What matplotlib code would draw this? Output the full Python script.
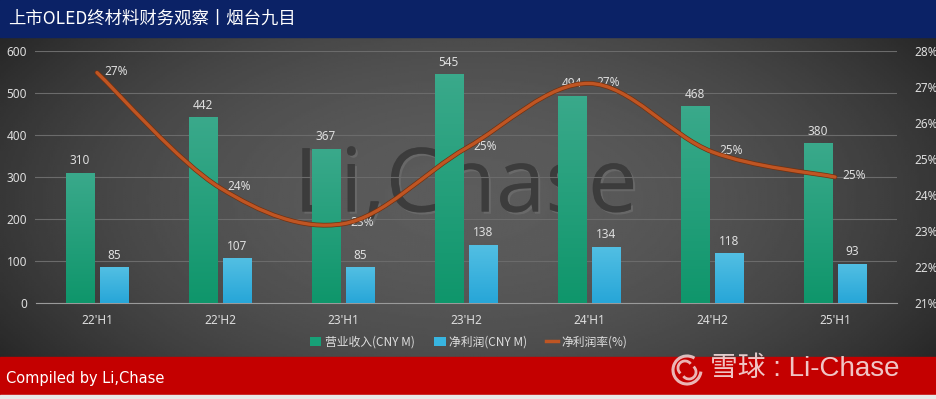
import numpy as np
import matplotlib
matplotlib.use("Agg")
import matplotlib.pyplot as plt
from matplotlib.path import Path
from matplotlib.patches import PathPatch, Rectangle, Arc
from matplotlib.colors import LinearSegmentedColormap
import matplotlib.patheffects as pe

plt.rcParams['font.family'] = ['Noto Sans CJK SC', 'DejaVu Sans']

# data
periods = ["22'H1", "22'H2", "23'H1", "23'H2", "24'H1", "24'H2", "25'H1"]
revenue = [310, 442, 367, 545, 494, 468, 380]
net_profit = [85, 107, 85, 138, 134, 118, 93]
net_margin = [27.4, 24.2, 23.2, 25.3, 27.1, 25.2, 24.5]
margin_labels = ["27%", "24%", "23%", "25%", "27%", "25%", "25%"]

title = "上市OLED终材料财务观察丨烟台九目"
legend_names = ["营业收入(CNY M)", "净利润(CNY M)", "净利润率(%)"]

green = "#17a077"
blue = "#38b5e0"
orange = "#bf5523"
txt = "#dedede"

W, H = 937, 399
fig = plt.figure(figsize=(W / 100, H / 100), dpi=100)

# background: radial grey gradient
bg = fig.add_axes([0, 0, 1, 1], zorder=-10)
yy, xx = np.mgrid[0:1:200j, 0:1:400j]
r2 = ((xx - 0.5) / 0.62) ** 2 + ((yy - 0.5) / 0.75) ** 2
shade = np.clip(0.36 - 0.22 * r2, 0.12, 0.4)
bg.imshow(shade, cmap="gray", vmin=0, vmax=1, extent=[0, 1, 0, 1], aspect="auto")
bg.add_patch(Rectangle((0, 1 - 37 / H), 1, 37 / H, color="#0b2266"))
bg.add_patch(Rectangle((0, 4 / H), 1, 38 / H, color="#c40000"))
bg.add_patch(Rectangle((0, 0), 1, 4 / H, color="#e8e8e8"))
bg.set_xlim(0, 1)
bg.set_ylim(0, 1)
bg.axis("off")

# big embossed watermark in the middle
bg.text(0.497, 0.528, "Li,Chase", fontsize=64, family="Open Sans",
        color="#3a3a3a", alpha=0.75, ha="center", va="center",
        path_effects=[pe.withSimplePatchShadow(offset=(1.5, -1.5), shadow_rgbFace="#777777", alpha=0.5),
                      pe.Normal()])

fig.text(8 / W, 1 - 19 / H, title, color="white", fontsize=12.5, va="center", ha="left")
fig.text(6 / W, 21 / H, "Compiled by Li,Chase", color="white", fontsize=10.5,
         family=["Liberation Sans Narrow", "DejaVu Sans"], va="center")

# xueqiu watermark in footer (logo drawn in pixel-sized units)
lx, ly = 687 / W, 29 / H
wm = "#f3d6d6"
bg.add_patch(Arc((lx, ly), 28 / W, 28 / H, theta1=75, theta2=345, ec=wm, lw=2.2, alpha=0.85))
bg.add_patch(Arc((lx - 2 / W, ly + 2 / H), 14 / W, 14 / H, theta1=60, theta2=250,
                 ec=wm, lw=2, alpha=0.85))
bg.add_patch(Arc((lx + 2 / W, ly - 2 / H), 14 / W, 14 / H, theta1=240, theta2=430,
                 ec=wm, lw=2, alpha=0.85))
fig.text(710 / W, 30 / H, "雪球 : Li-Chase", color="#f5dcdc", alpha=0.9, fontsize=20,
         family=["Liberation Sans", "Noto Sans CJK SC"], va="center", ha="left")

# main chart
ax = fig.add_axes([35.5 / W, 96 / H, 861 / W, 252 / H])
ax.set_facecolor("none")
x = np.arange(len(periods))
bw = 0.228
off = 0.142
b1 = ax.bar(x - off, revenue, bw, color=green, label=legend_names[0], zorder=3)
b2 = ax.bar(x + off, net_profit, bw, color=blue, label=legend_names[1], zorder=3)

# vertical gradient fill on each bar, clipped to the bar shape
grad = np.linspace(1, 0, 64).reshape(-1, 1)
cm_g = LinearSegmentedColormap.from_list("g", ["#0f966b", "#3aa98b"])
cm_b = LinearSegmentedColormap.from_list("b", ["#27a6d8", "#52bfe3"])
for bars, cm in ((b1, cm_g), (b2, cm_b)):
    for rect in bars:
        x0, w_, h_ = rect.get_x(), rect.get_width(), rect.get_height()
        im = ax.imshow(grad, cmap=cm, extent=[x0, x0 + w_, 0, h_], aspect="auto",
                       zorder=3.5, vmin=0, vmax=1)
        im.set_clip_path(rect)
    ax.bar_label(bars, padding=4, color=txt, fontsize=8.5, family="Noto Sans")

ax.set_xlim(-0.5, len(periods) - 0.5)
ax.set_ylim(0, 600)
ax.set_yticks(range(0, 601, 100))
ax.grid(axis="y", color="#6b6b6b", lw=0.8, zorder=0)
ax.set_axisbelow(True)
for s in ["top", "right", "left"]:
    ax.spines[s].set_visible(False)
ax.spines["bottom"].set_color("#9a9a9a")
ax.set_xticks(x)
ax.set_xticklabels(periods)
ax.tick_params(axis="both", length=0, colors=txt, labelsize=8.5)
ax.tick_params(axis="x", pad=8)
ax.tick_params(axis="y", pad=6)
for lab in ax.get_xticklabels() + ax.get_yticklabels():
    lab.set_family("Noto Sans")

# margin line (smoothed like Excel)
ax2 = ax.twinx()
ax2.set_ylim(21, 28)
ax2.set_yticks(range(21, 29))
ax2.set_yticklabels([f"{v}%" for v in range(21, 29)])
ax2.tick_params(axis="y", length=0, colors=txt, labelsize=8.5, pad=13)
for lab in ax2.get_yticklabels():
    lab.set_family("Noto Sans")
for s in ax2.spines.values():
    s.set_visible(False)

pts = np.column_stack([x, net_margin]).astype(float)
ext = np.vstack([pts[0], pts, pts[-1]])
verts = [tuple(pts[0])]
codes = [Path.MOVETO]
for i in range(1, len(ext) - 2):
    p0, p1, p2, p3 = ext[i - 1], ext[i], ext[i + 1], ext[i + 2]
    c1 = p1 + (p2 - p0) / 6
    c2 = p2 - (p3 - p1) / 6
    verts += [tuple(c1), tuple(c2), tuple(p2)]
    codes += [Path.CURVE4] * 3
ax2.add_patch(PathPatch(Path(verts, codes), fill=False, ec=orange, lw=2.4,
                        capstyle="round", zorder=4,
                        path_effects=[pe.Stroke(linewidth=3.4, foreground="#73300f"), pe.Normal()]))
for xi, yi, lab in zip(x, net_margin, margin_labels):
    ax2.annotate(lab, (xi, yi), xytext=(5, 1), textcoords="offset points",
                 color=txt, fontsize=8.5, family="Noto Sans", va="center", ha="left")

line_handle = plt.Line2D([], [], color=orange, lw=2.5)
fig.legend([b1, b2, line_handle], legend_names, loc="center", bbox_to_anchor=(0.5, 57 / H),
           ncol=3, frameon=False, labelcolor=txt, fontsize=8.5, handlelength=1.0,
           handleheight=0.9, columnspacing=1.6, handletextpad=0.3)

fig.savefig("out.png", dpi=100)
